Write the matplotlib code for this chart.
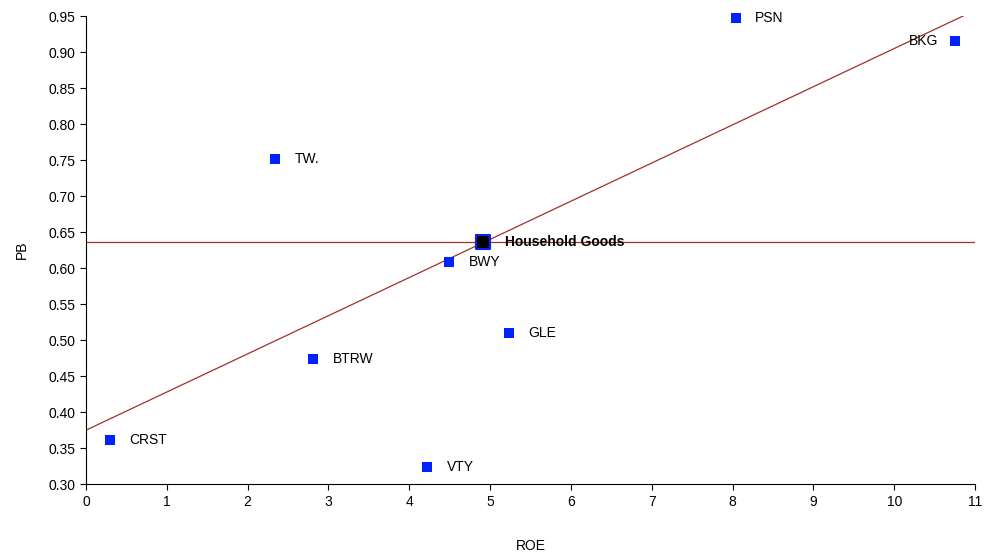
import numpy as np
import matplotlib.pyplot as plt

plt.rcParams['font.family'] = ['Liberation Sans', 'DejaVu Sans']

names = ["PSN", "BKG", "TW.", "BWY", "GLE", "BTRW", "CRST", "VTY"]
roe = [8.04, 10.75, 2.34, 4.49, 5.23, 2.81, 0.30, 4.22]
pb = [0.947, 0.915, 0.751, 0.608, 0.510, 0.474, 0.361, 0.324]

sector_name = "Household Goods"
sector_roe = 4.91
sector_pb = 0.636

# trend line
trend_intercept = 0.375
trend_slope = 0.053

fig = plt.figure(figsize=(9.84, 5.54), dpi=100)
ax = fig.add_axes([0.0874, 0.126, 0.9036, 0.845])

line_col = '#a0302a'
xs = np.array([0, 11])
ax.plot(xs, trend_intercept + trend_slope * xs, color=line_col, lw=0.9, zorder=1)
ax.axhline(sector_pb, color=line_col, lw=0.9, zorder=1)

ax.scatter(roe, pb, marker='s', s=52, color='#0022ff', zorder=3, linewidths=0,
           clip_on=False)
ax.scatter([sector_roe], [sector_pb], marker='s', s=110, color='black',
           edgecolors='#0022ff', linewidths=1.5, zorder=4)

for n, x, y in zip(names, roe, pb):
    if n == "BKG":
        ax.annotate(n, (x, y), xytext=(-12, 0), textcoords='offset points',
                    ha='right', va='center', fontsize=10)
    else:
        ax.annotate(n, (x, y), xytext=(14, 0), textcoords='offset points',
                    ha='left', va='center', fontsize=10)
ax.annotate(sector_name, (sector_roe, sector_pb), xytext=(16, 0),
            textcoords='offset points', ha='left', va='center',
            fontsize=10, fontweight='bold')

ax.set_xlim(0, 11)
ax.set_ylim(0.30, 0.95)
ax.set_xticks(range(0, 12))
ax.set_yticks(np.arange(0.30, 0.951, 0.05))
ax.yaxis.set_major_formatter(plt.FormatStrFormatter('%.2f'))
ax.spines['top'].set_visible(False)
ax.spines['right'].set_visible(False)
ax.tick_params(direction='out', length=4, labelsize=10)
ax.set_xlabel("ROE", fontsize=10, labelpad=22)
ax.set_ylabel("PB", fontsize=10, labelpad=14)

fig.savefig("out.png", dpi=100)
